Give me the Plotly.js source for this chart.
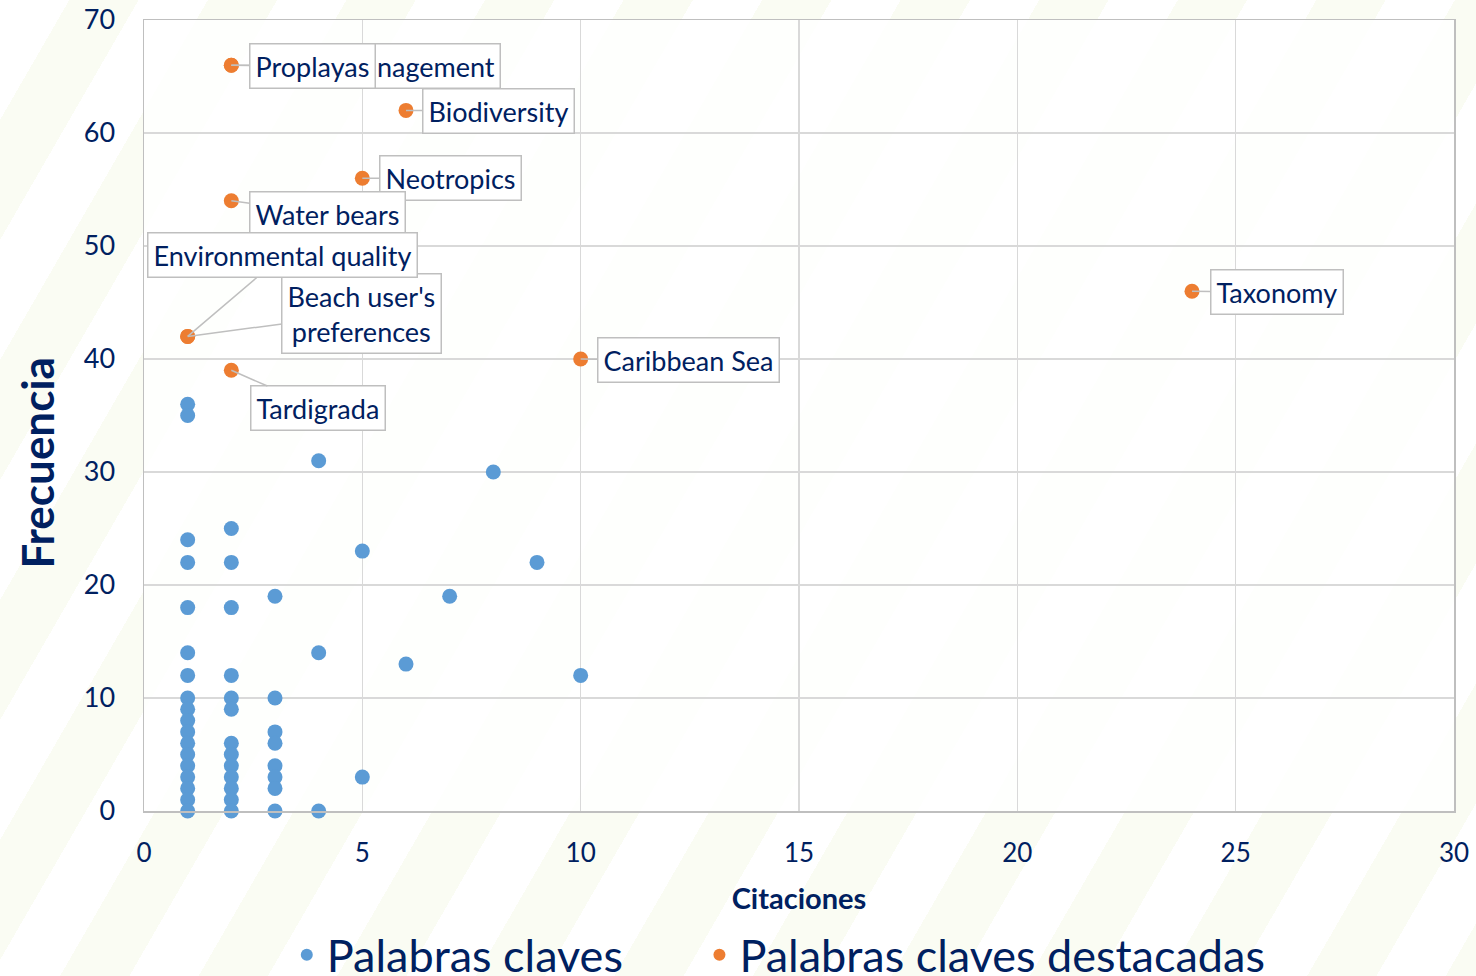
<!DOCTYPE html>
<html>
<head>
<meta charset="utf-8">
<script src="https://cdn.plot.ly/plotly-3.0.1.min.js"></script>
<style>
  html, body { margin: 0; padding: 0; }
  body {
    width: 1476px; height: 976px; overflow: hidden;
    background: repeating-linear-gradient(120deg, #ffffff 0px, #ffffff 60px, #fafcf3 60px, #fafcf3 120px);
  }
  #chart { width: 1476px; height: 976px; }
</style>
</head>
<body>
<div id="chart"></div>
<script>
// ---- Data ----
const keywordCitations = [
  1,1,1,1,1,1,1,1,1,1,1,1,1,1,1,1,1,1,
  2,2,2,2,2,2,2,2,2,2,2,2,2,
  3,3,3,3,3,3,3,3,
  4,4,4,
  5,5,
  6,7,8,9,10
];
const keywordFrequency = [
  36,35,24,22,18,14,12,10,9,8,7,6,5,4,3,2,1,0,
  25,22,18,12,10,9,6,5,4,3,2,1,0,
  19,10,7,6,4,3,2,0,
  31,14,0,
  23,3,
  13,19,30,22,12
];

const highlightLabels = [
  "Beach management", "Proplayas", "Biodiversity", "Neotropics", "Water bears",
  "Beach user's<br>preferences", "Environmental quality", "Tardigrada", "Caribbean Sea", "Taxonomy"
];
const highlightCitations = [2, 2, 6, 5, 2, 1, 1, 2, 10, 24];
const highlightFrequency = [66, 66, 62, 56, 54, 42, 42, 39, 40, 46];

const seriesNames = ["Palabras claves", "Palabras claves destacadas"];
const xTitle = "Citaciones";
const yTitle = "Frecuencia";

// ---- Label placement (pixel offsets of label boxes from their points) ----
const labelOffsets = [
  {ax: 270, ay: 1, xanchor: 'right'},
  {ax: 81, ay: 1},
  {ax: 92, ay: 1},
  {ax: 88, ay: 0},
  {ax: 96, ay: 13},
  {ax: 174, ay: -23},
  {ax: 95, ay: -81},
  {ax: 87, ay: 38},
  {ax: 108, ay: 1},
  {ax: 85, ay: 1}
];

const navy = '#002060';
const fontFam = 'Lato, "Open Sans", sans-serif';

const traces = [
  {
    type: 'scatter', mode: 'markers', name: seriesNames[0],
    x: keywordCitations, y: keywordFrequency,
    marker: {color: '#5b9bd5', size: 15},
    cliponaxis: false, legend: 'legend'
  },
  {
    type: 'scatter', mode: 'markers', name: seriesNames[1],
    x: highlightCitations, y: highlightFrequency,
    marker: {color: '#ed7d31', size: 15},
    cliponaxis: false, legend: 'legend2'
  }
];

const annotations = highlightLabels.map((t, i) => Object.assign({
  x: highlightCitations[i], y: highlightFrequency[i],
  xref: 'x', yref: 'y',
  text: t,
  showarrow: true, arrowhead: 0, arrowwidth: 1.5, arrowcolor: '#bfbfbf',
  standoff: 0,
  bgcolor: '#ffffff', bordercolor: '#bfbfbf', borderwidth: 1.5, borderpad: 5,
  font: {family: fontFam, size: 27, color: navy},
  align: 'center'
}, labelOffsets[i]));

annotations.push({
  xref: 'paper', yref: 'paper', x: -0.082, y: 0.44,
  xanchor: 'center', yanchor: 'middle',
  text: yTitle, textangle: -90, showarrow: false,
  font: {family: fontFam, size: 44, color: navy, weight: 'bold'}
});

const legendStyle = {
  orientation: 'h', yanchor: 'middle', y: -0.182,
  font: {family: fontFam, size: 45, color: navy},
  itemsizing: 'constant', bgcolor: 'rgba(0,0,0,0)', itemwidth: 30
};

const layout = {
  width: 1476, height: 976,
  margin: {l: 144, r: 22, t: 20, b: 165, autoexpand: false},
  paper_bgcolor: 'rgba(0,0,0,0)',
  plot_bgcolor: 'rgba(255,255,255,0.8)',
  font: {family: fontFam, color: navy, size: 26},
  showlegend: true,
  legend: Object.assign({x: 0.109, xanchor: 'left'}, legendStyle),
  legend2: Object.assign({x: 0.424, xanchor: 'left'}, legendStyle),
  xaxis: {
    range: [0, 30], dtick: 5, tick0: 0,
    showgrid: true, gridcolor: '#d9d9d9', gridwidth: 1.5,
    showline: true, linecolor: '#bfbfbf', linewidth: 1.5, mirror: true,
    zeroline: false, ticks: '',
    ticklabelstandoff: 18,
    tickfont: {family: fontFam, size: 26, color: navy},
    title: {text: xTitle, standoff: 22, font: {family: fontFam, size: 29, color: navy, weight: 'bold'}}
  },
  yaxis: {
    range: [0, 70], dtick: 10, tick0: 0,
    showgrid: true, gridcolor: '#d9d9d9', gridwidth: 1.5,
    showline: true, linecolor: '#bfbfbf', linewidth: 1.5, mirror: true,
    zeroline: false, ticks: '',
    ticklabelstandoff: 22,
    tickfont: {family: fontFam, size: 27, color: navy}
  },
  annotations: annotations
};

Plotly.newPlot('chart', traces, layout, {displayModeBar: false, staticPlot: true});
</script>
</body>
</html>
